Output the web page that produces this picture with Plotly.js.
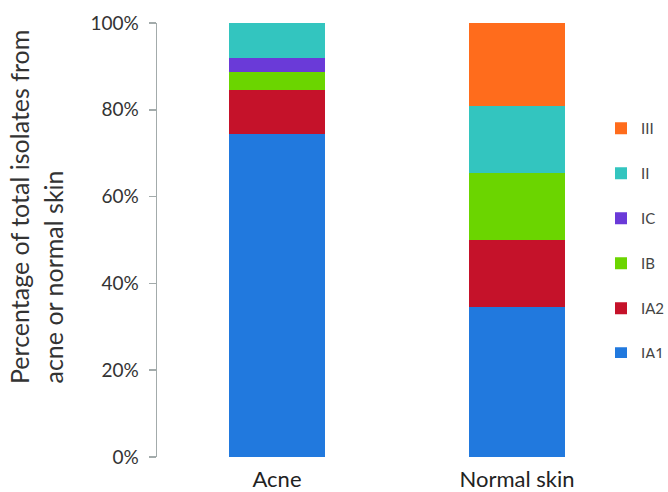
<!DOCTYPE html>
<html>
<head>
<meta charset="utf-8">
<script src="https://cdn.plot.ly/plotly-3.0.1.min.js"></script>
<style>html,body{margin:0;padding:0;background:#fff;}#chart{width:668px;height:492px;}</style>
</head>
<body>
<div id="chart"></div>
<script>
var categories = ["Acne", "Normal skin"];
var seriesNames = ["IA1", "IA2", "IB", "IC", "II", "III"];
var IA1 = [74.4, 34.6];
var IA2 = [10.1, 15.4];
var IB = [4.2, 15.4];
var IC = [3.2, 0];
var II = [8.1, 15.4];
var III = [0, 19.2];
var seriesValues = [IA1, IA2, IB, IC, II, III];
var seriesColors = ["#2179DE", "#C5122A", "#6BD500", "#6A3AD8", "#33C5BF", "#FF6C1C"];
var yTickValues = [0, 20, 40, 60, 80, 100];
var yTickLabels = ["0%", "20%", "40%", "60%", "80%", "100%"];

var FONT = "Lato, 'Open Sans', sans-serif";

var traces = seriesNames.map(function(name, i) {
  return {
    type: "bar",
    name: name,
    x: categories,
    y: seriesValues[i],
    marker: {color: seriesColors[i], line: {width: 0}},
    legendgroup: name,
    legendrank: seriesNames.length - i,
    hoverinfo: "name+y"
  };
});

var W = 668, H = 492, L = 157, R = 31, T = 23, B = 35;
var pw = W - L - R, ph = H - T - B;
function px(x) { return (x - L) / pw; }
function py(y) { return (H - B - y) / ph; }

var layout = {
  width: W, height: H,
  margin: {l: L, r: R, t: T, b: B, pad: 0, autoexpand: false},
  paper_bgcolor: "#fff", plot_bgcolor: "#fff",
  barmode: "stack",
  bargap: 0.6,
  font: {family: FONT, color: "#333"},
  showlegend: true,
  legend: {
    xref: "container", yref: "container",
    x: 601 / W, xanchor: "left",
    y: 1 - 112 / H, yanchor: "top",
    traceorder: "grouped",
    tracegroupgap: 22.5,
    font: {family: FONT, size: 15, color: "#444"},
    bgcolor: "rgba(0,0,0,0)"
  },
  xaxis: {
    type: "category",
    range: [-0.5, 1.5],
    showline: false, showgrid: false, zeroline: false,
    ticks: "",
    ticklabelstandoff: 7,
    tickfont: {family: FONT, size: 22, color: "#222"},
    fixedrange: true
  },
  yaxis: {
    range: [0, 100],
    tickvals: yTickValues,
    ticktext: yTickLabels,
    showline: true, linecolor: "#a3abab", linewidth: 1.5,
    ticks: "outside", ticklen: 7, tickcolor: "#a3abab", tickwidth: 1.5,
    ticklabelstandoff: 6,
    showgrid: false, zeroline: false,
    tickfont: {family: FONT, size: 19, color: "#333"},
    fixedrange: true
  },
  annotations: [
    {text: "Percentage of total isolates from", xref: "paper", yref: "paper",
     x: px(19), y: py(386), xanchor: "center", yanchor: "bottom", textangle: -90,
     showarrow: false, font: {family: FONT, size: 25, color: "#333"}},
    {text: "acne or normal skin", xref: "paper", yref: "paper",
     x: px(52), y: py(386), xanchor: "center", yanchor: "bottom", textangle: -90,
     showarrow: false, font: {family: FONT, size: 25, color: "#333"}}
  ]
};

Plotly.newPlot("chart", traces, layout, {displayModeBar: false, staticPlot: true});
</script>
</body>
</html>
